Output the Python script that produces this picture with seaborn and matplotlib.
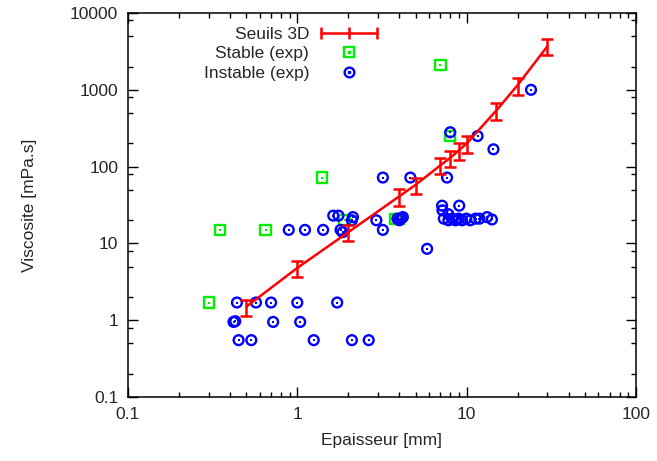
import numpy as np
import matplotlib
matplotlib.use("Agg")
import matplotlib.pyplot as plt
import seaborn as sns
from matplotlib.lines import Line2D
from matplotlib.legend_handler import HandlerLine2D, HandlerTuple
from matplotlib.ticker import LogLocator, FuncFormatter, NullFormatter

# Seuils 3D (simulation) : epaisseur [mm], viscosite [mPa.s], barre d'erreur
seuil_ep = [0.5, 1, 2, 4, 5, 7, 8, 9, 10, 15, 20, 30]
seuil_visc = [1.5, 4.8, 14, 41, 58, 104, 130, 163, 200, 540, 1150, 3700]
seuil_err = [0.35, 1.1, 3.4, 10, 14, 25, 32, 40, 50, 135, 290, 900]

# experiences stables
stable_ep = [0.3, 0.35, 0.65, 1.4, 1.9, 3.8, 4.0, 7.0, 8.0]
stable_visc = [1.7, 15, 15, 72, 20, 21, 21, 2100, 250]

# experiences instables
instable_ep = [0.44, 0.57, 0.70, 1.0, 1.72,
               0.42, 0.43, 0.72, 1.04,
               0.45, 0.535, 1.25, 2.1, 2.64,
               0.89, 1.11, 1.42, 1.8, 1.85, 3.2,
               1.63, 1.75, 2.1, 2.13, 2.93,
               3.2, 4.65, 7.66,
               3.9, 4.0, 4.1, 4.2,
               5.84,
               7.16, 9.04, 7.2, 7.8,
               7.33, 7.8, 8.2, 8.6, 8.97, 9.4, 9.95, 10.5, 11.3, 11.9, 13.2, 14.1,
               24, 8.0, 11.6, 14.4]
instable_visc = [1.7, 1.7, 1.7, 1.7, 1.7,
                 0.95, 0.97, 0.95, 0.95,
                 0.55, 0.55, 0.55, 0.55, 0.55,
                 15, 15, 15, 15, 14, 15,
                 23, 23, 20, 22, 20,
                 72, 72, 72,
                 21, 20, 21, 22,
                 8.5,
                 31, 31, 27, 24,
                 21, 20, 21, 20, 21, 20, 21, 20, 21, 21, 22, 20.5,
                 1000, 280, 250, 168]

RED = "#ff0000"
GREEN = "#00ee00"
BLUE = "#0000ff"
FS = 12.5

sns.set_style("ticks")
plt.rcParams['font.family'] = ['Liberation Sans', 'DejaVu Sans']
plt.rcParams['font.size'] = FS

fig = plt.figure(figsize=(6.57, 4.61), dpi=100)
ax = fig.add_axes([0.1948, 0.1388, 0.7732, 0.833])

# seuils : ligne + barres d'erreur
sns.lineplot(x=seuil_ep, y=seuil_visc, ax=ax, color=RED, linewidth=1.8,
             sort=False, estimator=None)
ax.errorbar(seuil_ep, seuil_visc, yerr=seuil_err, fmt="none", ecolor=RED,
            elinewidth=1.8, capsize=4, capthick=1.8)

# points experimentaux (symboles creux avec point central)
sns.scatterplot(x=stable_ep, y=stable_visc, ax=ax, marker="s", s=55,
                color=GREEN, linewidth=1.7)
ax.collections[-1].set_facecolor("none")
ax.collections[-1].set_edgecolor(GREEN)
sns.scatterplot(x=stable_ep, y=stable_visc, ax=ax, marker="s", s=3,
                color=GREEN, linewidth=0)

sns.scatterplot(x=instable_ep, y=instable_visc, ax=ax, marker="o", s=50,
                color=BLUE, linewidth=1.7)
ax.collections[-1].set_facecolor("none")
ax.collections[-1].set_edgecolor(BLUE)
sns.scatterplot(x=instable_ep, y=instable_visc, ax=ax, marker="s", s=3,
                color=BLUE, linewidth=0)

ax.set_xscale("log")
ax.set_yscale("log")
ax.set_xlim(0.1, 100)
ax.set_ylim(0.1, 10000)

fmt = FuncFormatter(lambda v, p: "%g" % v)
ax.xaxis.set_major_locator(LogLocator(base=10, numticks=10))
ax.yaxis.set_major_locator(LogLocator(base=10, numticks=10))
ax.xaxis.set_major_formatter(fmt)
ax.yaxis.set_major_formatter(fmt)
ax.xaxis.set_minor_locator(LogLocator(base=10, subs=np.arange(2, 10), numticks=20))
ax.yaxis.set_minor_locator(LogLocator(base=10, subs=[2, 5, 8], numticks=20))
ax.xaxis.set_minor_formatter(NullFormatter())
ax.yaxis.set_minor_formatter(NullFormatter())
ax.tick_params(which="both", direction="in", top=True, right=True,
               width=1, color="black", labelsize=FS, pad=7)
ax.tick_params(which="major", length=7)
ax.tick_params(which="minor", length=3.5)
for sp in ax.spines.values():
    sp.set_linewidth(1.1)
    sp.set_color("black")

ax.set_xlabel("Epaisseur [mm]", fontsize=FS, labelpad=8)
ax.set_ylabel("Viscosite [mPa.s]", fontsize=FS, labelpad=24)

# legende facon gnuplot
h_seuil = Line2D([], [], color=RED, linewidth=1.8, marker="|",
                 markersize=9, markeredgewidth=1.8)
h_stab = (Line2D([], [], linestyle="none", marker="s", markersize=7,
                 markerfacecolor="none", markeredgecolor=GREEN, markeredgewidth=1.7),
          Line2D([], [], linestyle="none", marker="s", markersize=1.5,
                 color=GREEN))
h_inst = (Line2D([], [], linestyle="none", marker="o", markersize=7,
                 markerfacecolor="none", markeredgecolor=BLUE, markeredgewidth=1.7),
          Line2D([], [], linestyle="none", marker="s", markersize=1.5,
                 color=BLUE))
leg = ax.legend([h_seuil, h_stab, h_inst],
                ["Seuils 3D", "Stable (exp)", "Instable (exp)"],
                handler_map={h_seuil: HandlerLine2D(numpoints=3),
                             tuple: HandlerTuple(ndivide=1)},
                markerfirst=False, frameon=False, loc="upper left",
                bbox_to_anchor=(0.125, 0.996), fontsize=FS, handlelength=3.8,
                handletextpad=0.4, labelspacing=0.25, borderaxespad=0.3)

fig.savefig("out.png", dpi=100)
